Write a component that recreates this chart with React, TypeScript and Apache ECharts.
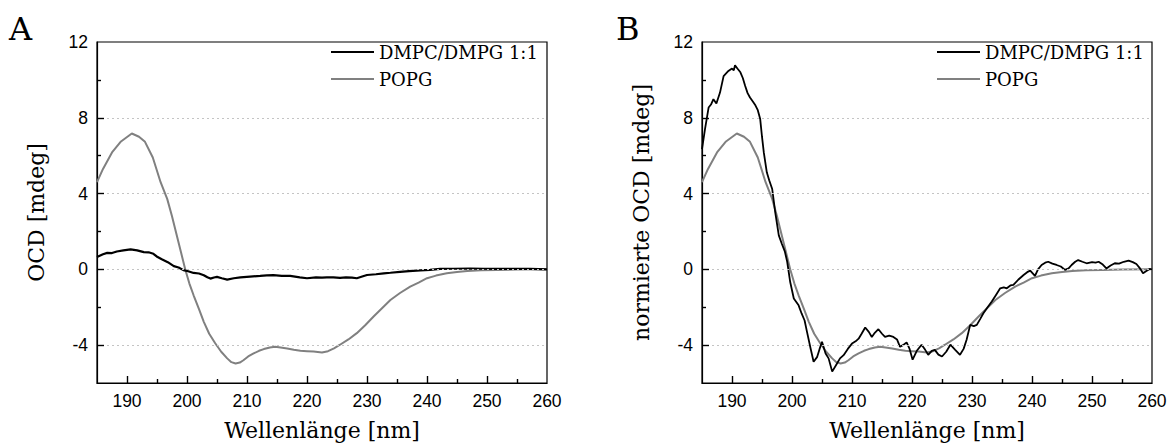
import React, { useEffect, useRef } from "react";
import * as echarts from "echarts";

// ---- Data ----
const popgWl = [185, 186, 187.5, 189, 190.8, 192, 193, 194.3, 195.6, 196.7, 197.5, 198.3, 199, 199.7, 200.4, 201.1, 202, 202.8, 203.7, 204.7, 205.7, 206.7, 207.4, 208.1, 208.8, 209.4, 210.2, 211.1, 212, 212.8, 213.8, 214.7, 215.6, 216.7, 217.8, 218.9, 220, 221.1, 222.5, 223.5, 224.5, 225.5, 226.9, 228.3, 229.7, 231.1, 232.5, 233.9, 235.5, 237.2, 238.6, 240, 241.5, 243.3, 245, 246.7, 249, 251.7, 255, 260];
const popgVal = [4.6, 5.3, 6.17, 6.75, 7.17, 7.0, 6.73, 5.9, 4.6, 3.72, 2.8, 1.79, 0.9, 0.0, -0.75, -1.37, -2.1, -2.77, -3.4, -3.9, -4.35, -4.7, -4.9, -4.97, -4.92, -4.8, -4.6, -4.44, -4.3, -4.21, -4.13, -4.09, -4.13, -4.18, -4.25, -4.3, -4.32, -4.34, -4.39, -4.32, -4.17, -3.98, -3.7, -3.37, -2.95, -2.49, -2.05, -1.62, -1.25, -0.91, -0.7, -0.47, -0.33, -0.21, -0.14, -0.09, -0.05, -0.03, -0.01, 0];

const dmpcAWl = [185, 186, 186.7, 187.5, 188.3, 189.4, 190.6, 191.7, 192.8, 193.6, 194.4, 195.1, 195.8, 196.8, 197.8, 198.6, 199.4, 200.2, 201.1, 202, 202.8, 203.4, 203.9, 204.5, 205, 205.8, 206.7, 207.8, 208.9, 210.5, 212.2, 213.3, 214.4, 215.8, 217.2, 218.8, 220, 221.5, 222.5, 223.3, 224.4, 225.5, 226.5, 227.5, 228.3, 229.2, 230, 231.5, 232.8, 233.9, 235.5, 237, 238.9, 240.5, 242.2, 244.5, 247.2, 249.5, 251.7, 254.5, 257.2, 260];
const dmpcAVal = [0.65, 0.8, 0.87, 0.86, 0.94, 1.0, 1.05, 1.0, 0.91, 0.9, 0.82, 0.65, 0.53, 0.38, 0.17, 0.1, -0.04, -0.1, -0.19, -0.22, -0.31, -0.42, -0.49, -0.43, -0.4, -0.47, -0.54, -0.47, -0.42, -0.38, -0.35, -0.32, -0.31, -0.35, -0.35, -0.42, -0.47, -0.42, -0.44, -0.42, -0.42, -0.45, -0.42, -0.44, -0.47, -0.38, -0.3, -0.26, -0.21, -0.18, -0.13, -0.09, -0.05, -0.03, 0.02, 0.03, 0.04, 0.03, 0.02, 0.03, 0.02, 0];

const dmpcBWl = [185, 185.5, 186.1, 186.5, 186.9, 187.4, 188, 188.6, 189.4, 190, 190.3, 190.5, 190.9, 191.4, 191.8, 192.2, 192.6, 193, 193.5, 193.9, 194.3, 194.7, 195, 195.3, 195.8, 196.2, 196.7, 197.2, 197.8, 198.3, 198.8, 199.2, 199.7, 200.3, 201.1, 201.6, 202.1, 202.5, 203.1, 203.6, 204.2, 204.6, 205, 205.6, 206.1, 206.7, 207.5, 208, 208.6, 209.3, 210, 210.6, 211.1, 211.6, 212.2, 212.8, 213.3, 213.8, 214.4, 215, 215.5, 216.2, 216.9, 217.5, 218, 218.5, 219.1, 219.6, 220.1, 220.8, 221.6, 222.2, 222.7, 223.3, 223.8, 224.4, 225, 225.7, 226.4, 227.2, 228, 228.6, 229.1, 229.7, 230.3, 230.8, 231.4, 231.9, 232.6, 233.3, 234, 234.7, 235.3, 235.8, 236.4, 236.9, 237.7, 238.6, 239.2, 239.7, 240.5, 241, 241.6, 242.2, 242.7, 243.4, 244.1, 244.8, 245.5, 246.1, 246.6, 247.2, 247.7, 248.4, 249.1, 250, 250.6, 251.1, 251.8, 252.4, 253.1, 253.8, 254.5, 255.3, 256.1, 256.8, 257.4, 258, 258.5, 259, 259.6, 260];
const dmpcBVal = [6.35, 7.4, 8.54, 8.7, 8.98, 8.75, 9.33, 10.2, 10.47, 10.6, 10.5, 10.77, 10.6, 10.4, 10.1, 9.68, 9.3, 9.07, 8.85, 8.66, 8.4, 7.93, 7.0, 6.17, 5.12, 4.7, 4.24, 3.02, 1.79, 1.35, 0.95, 0.4, -0.67, -1.54, -1.9, -2.33, -2.7, -3.3, -4.18, -4.88, -4.62, -4.2, -3.83, -4.44, -4.7, -5.4, -4.97, -4.7, -4.53, -4.2, -3.92, -3.8, -3.66, -3.4, -3.07, -3.3, -3.57, -3.35, -3.16, -3.4, -3.57, -3.5, -3.57, -3.7, -4.09, -4.0, -3.86, -4.2, -4.77, -4.3, -3.98, -4.25, -4.51, -4.3, -4.25, -4.5, -4.6, -4.35, -3.98, -4.25, -4.51, -4.2, -3.72, -2.93, -3.0, -2.93, -2.6, -2.32, -2.0, -1.7, -1.35, -1.0, -0.95, -1.0, -0.85, -0.82, -0.55, -0.3, -0.15, -0.07, -0.35, 0.0, 0.23, 0.35, 0.4, 0.3, 0.23, 0.15, -0.03, 0.05, 0.23, 0.4, 0.49, 0.4, 0.32, 0.38, 0.35, 0.4, 0.25, 0.05, 0.2, 0.32, 0.3, 0.4, 0.46, 0.38, 0.28, 0.05, -0.21, -0.1, 0.02, 0];

const seriesNames = ["DMPC/DMPG 1:1", "POPG"];
const panelLetters = ["A", "B"];
const yTitles = ["OCD [mdeg]", "normierte OCD [mdeg]"];
const xTitle = "Wellenlänge [nm]";
const xLabelTicks = [190, 200, 210, 220, 230, 240, 250, 260];
const yLabelTicks = [-4, 0, 4, 8, 12];
const yGridValues = [-4, 0, 4, 8];
const xMajorTicks = [190, 200, 210, 220, 230, 240, 250];
const xMinorTicks = [195, 205, 215, 225, 235, 245, 255];
const yMajorTicks = [-4, 0, 4, 8];
const yMinorTicks = [-2, 2, 6, 10];

const X_MIN = 185;
const X_MAX = 260;
const Y_MIN = -6;
const Y_MAX = 12;

const zip = (xs: number[], ys: number[]) => xs.map((x, i) => [x, ys[i]]);

const SANS = "Liberation Sans";
const SERIF = "DejaVu Serif";

// plot area pixel size (used to convert tick length in px into data units)
const PLOT_W = 450;
const PLOT_H = 341;
const pxToX = (px: number) => (px * (X_MAX - X_MIN)) / PLOT_W;
const pxToY = (px: number) => (px * (Y_MAX - Y_MIN)) / PLOT_H;

function tickSegments() {
  const style = { color: "#000", width: 1.4, type: "solid" };
  const segs: any[] = [];
  xMajorTicks.forEach((v) =>
    segs.push([{ coord: [v, Y_MIN], lineStyle: style }, { coord: [v, Y_MIN + pxToY(7)] }])
  );
  xMinorTicks.forEach((v) =>
    segs.push([{ coord: [v, Y_MIN], lineStyle: style }, { coord: [v, Y_MIN + pxToY(4)] }])
  );
  yMajorTicks.forEach((v) =>
    segs.push([{ coord: [X_MIN, v], lineStyle: style }, { coord: [X_MIN + pxToX(7), v] }])
  );
  yMinorTicks.forEach((v) =>
    segs.push([{ coord: [X_MIN, v], lineStyle: style }, { coord: [X_MIN + pxToX(4), v] }])
  );
  return segs;
}

function makeAxes(gridIndex: number) {
  const x: any = {
    type: "value",
    gridIndex,
    min: X_MIN,
    max: X_MAX,
    interval: 5,
    name: xTitle,
    nameLocation: "middle",
    nameGap: 36,
    nameTextStyle: { fontFamily: SERIF, fontSize: 22, color: "#000" },
    axisLine: { show: true, onZero: false, lineStyle: { color: "#000", width: 1.2 } },
    axisTick: { show: false },
    axisLabel: {
      show: true,
      customValues: xLabelTicks,
      margin: 9,
      fontFamily: SANS,
      fontSize: 17.5,
      color: "#000",
    },
    splitLine: { show: false },
  };
  const y: any = {
    type: "value",
    gridIndex,
    min: Y_MIN,
    max: Y_MAX,
    interval: 2,
    name: yTitles[gridIndex],
    nameLocation: "middle",
    nameGap: 50,
    nameTextStyle: { fontFamily: SERIF, fontSize: 22, color: "#000" },
    axisLine: { show: true, onZero: false, lineStyle: { color: "#000", width: 1.2 } },
    axisTick: { show: false },
    axisLabel: {
      show: true,
      customValues: yLabelTicks,
      margin: 9,
      fontFamily: SANS,
      fontSize: 17.5,
      color: "#000",
    },
    splitLine: { show: false },
  };
  return { x, y };
}

export default function App() {
  const ref = useRef<HTMLDivElement>(null);

  useEffect(() => {
    if (!ref.current) return;
    const chart = echarts.init(ref.current, null, { renderer: "svg" });
    const a0 = makeAxes(0);
    const a1 = makeAxes(1);

    const gridMark = {
      silent: true,
      symbol: ["none", "none"],
      label: { show: false },
      lineStyle: { color: "#c4c4c4", width: 1, type: [2, 3] },
      data: yGridValues.map((v) => ({ yAxis: v })),
      animation: false,
    };

    const tickMark = {
      silent: true,
      symbol: ["none", "none"],
      label: { show: false },
      lineStyle: { color: "#000", width: 1.4, type: "solid" },
      data: tickSegments(),
      animation: false,
    };

    const lineBase = {
      type: "line",
      showSymbol: false,
      symbol: "none",
      smooth: false,
    };

    chart.setOption({
      animation: false,
      backgroundColor: "#fff",
      grid: [
        { left: 97, top: 42, width: PLOT_W, height: PLOT_H, show: true, borderColor: "#000", borderWidth: 1.2, backgroundColor: "transparent" },
        { left: 702, top: 42, width: PLOT_W, height: PLOT_H, show: true, borderColor: "#000", borderWidth: 1.2, backgroundColor: "transparent" },
      ],
      xAxis: [a0.x, a1.x],
      yAxis: [a0.y, a1.y],
      legend: [0, 1].map((i) => ({
        left: i === 0 ? 331 : 937,
        top: 43,
        orient: "vertical",
        icon: "rect",
        itemWidth: 43,
        itemHeight: 2,
        itemGap: 9,
        padding: 0,
        selectedMode: false,
        data: seriesNames,
        textStyle: { fontFamily: SERIF, fontSize: 18, color: "#000" },
      })),
      graphic: panelLetters.map((t, i) => ({
        type: "text",
        left: i === 0 ? 9 : 616,
        top: 13,
        style: { text: t, fontFamily: SERIF, fontSize: 32, fill: "#000" },
      })),
      series: [
        {
          ...lineBase,
          name: seriesNames[1],
          xAxisIndex: 0,
          yAxisIndex: 0,
          color: "#808080",
          lineStyle: { color: "#808080", width: 2 },
          data: zip(popgWl, popgVal),
          markLine: gridMark,
          z: 2,
        },
        {
          ...lineBase,
          name: seriesNames[0],
          xAxisIndex: 0,
          yAxisIndex: 0,
          color: "#000",
          lineStyle: { color: "#000", width: 2.2 },
          data: zip(dmpcAWl, dmpcAVal),
          markLine: tickMark,
          z: 3,
        },
        {
          ...lineBase,
          name: seriesNames[1],
          xAxisIndex: 1,
          yAxisIndex: 1,
          color: "#808080",
          lineStyle: { color: "#808080", width: 2 },
          data: zip(popgWl, popgVal),
          markLine: gridMark,
          z: 2,
        },
        {
          ...lineBase,
          name: seriesNames[0],
          xAxisIndex: 1,
          yAxisIndex: 1,
          color: "#000",
          lineStyle: { color: "#000", width: 1.8 },
          data: zip(dmpcBWl, dmpcBVal),
          markLine: tickMark,
          z: 3,
        },
      ],
    });
    return () => chart.dispose();
  }, []);

  return (
    <div
      ref={ref}
      style={{ position: "absolute", left: 0, top: 0, width: 1170, height: 446 }}
    />
  );
}
